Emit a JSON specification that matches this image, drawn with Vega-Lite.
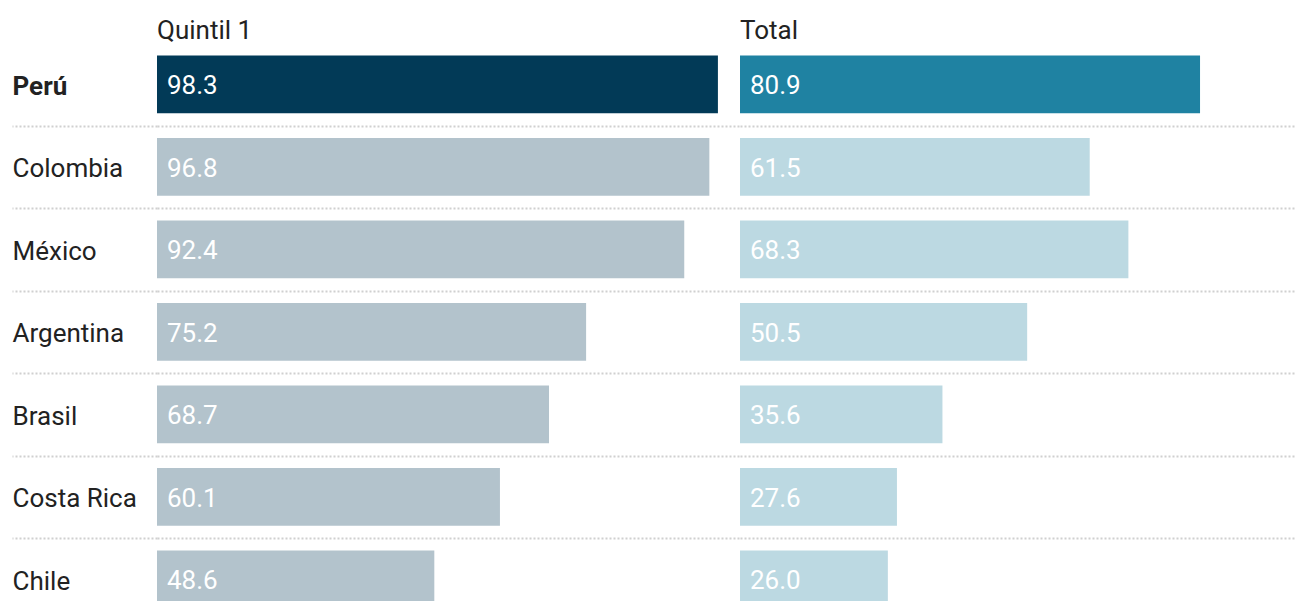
{
  "$schema": "https://vega.github.io/schema/vega-lite/v6.json",
  "padding": {"left": 11, "top": 18, "right": 0, "bottom": -20},
  "background": "white",
  "config": {"font": "Roboto", "view": {"stroke": null}, "concat": {"spacing": 0}},
  "spacing": 0,
  "data": {
    "values": [
      {"pais": "Perú", "quintil1": 98.3, "total": 80.9},
      {"pais": "Colombia", "quintil1": 96.8, "total": 61.5},
      {"pais": "México", "quintil1": 92.4, "total": 68.3},
      {"pais": "Argentina", "quintil1": 75.2, "total": 50.5},
      {"pais": "Brasil", "quintil1": 68.7, "total": 35.6},
      {"pais": "Costa Rica", "quintil1": 60.1, "total": 27.6},
      {"pais": "Chile", "quintil1": 48.6, "total": 26.0}
    ]
  },
  "hconcat": [
    {
      "width": 583,
      "height": 577.5,
      "title": {"text": "Quintil 1", "anchor": "start", "frame": "group", "fontSize": 26, "fontWeight": "normal", "color": "#222222", "offset": -1, "font": "Roboto"},
      "encoding": {
        "y": {
          "field": "pais", "type": "nominal", "sort": null,
          "scale": {"paddingInner": 0.3, "paddingOuter": 0.15},
          "axis": {
            "title": null, "domain": false,
            "bandPosition": 0.5, "tickOffset": 41.25, "labelOffset": -39.5,
            "ticks": true, "tickSize": 145, "tickColor": "#d0d0d0", "tickDash": [2, 2], "tickWidth": 2,
            "grid": true, "gridColor": "#d0d0d0", "gridDash": [2, 2], "gridWidth": 2,
            "labelAlign": "left", "labelBaseline": "middle", "labelPadding": 0,
            "labelFontSize": 26, "labelColor": "#222222", "labelFont": "Roboto",
            "labelFontWeight": {"condition": {"test": "datum.value === 'Perú'", "value": "bold"}, "value": "normal"}
          }
        }
      },
      "layer": [
        {
          "mark": {"type": "bar"},
          "encoding": {
            "x": {"field": "quintil1", "type": "quantitative", "scale": {"domain": [0, 102.17], "nice": false, "zero": true}, "axis": null},
            "color": {"condition": {"test": "datum.pais === 'Perú'", "value": "#023A57"}, "value": "#B3C3CC"}
          }
        },
        {
          "mark": {"type": "text", "align": "left", "baseline": "middle", "dx": 10, "dy": 2, "fontSize": 26, "color": "white", "font": "Roboto"},
          "encoding": {
            "x": {"datum": 0, "type": "quantitative"},
            "text": {"field": "quintil1", "type": "quantitative", "format": ".1f"}
          }
        }
      ]
    },
    {
      "width": 555,
      "height": 577.5,
      "title": {"text": "Total", "anchor": "start", "frame": "group", "fontSize": 26, "fontWeight": "normal", "color": "#222222", "offset": -1, "font": "Roboto"},
      "encoding": {
        "y": {
          "field": "pais", "type": "nominal", "sort": null,
          "scale": {"paddingInner": 0.3, "paddingOuter": 0.15},
          "axis": {
            "title": null, "domain": false, "labels": false, "ticks": false,
            "bandPosition": 0.5, "tickOffset": 41.25,
            "grid": true, "gridColor": "#d0d0d0", "gridDash": [2, 2], "gridWidth": 2
          }
        }
      },
      "layer": [
        {
          "mark": {"type": "bar"},
          "encoding": {
            "x": {"field": "total", "type": "quantitative", "scale": {"domain": [0, 97.6], "nice": false, "zero": true}, "axis": null},
            "color": {"condition": {"test": "datum.pais === 'Perú'", "value": "#1F82A2"}, "value": "#BCD9E2"}
          }
        },
        {
          "mark": {"type": "text", "align": "left", "baseline": "middle", "dx": 10, "dy": 2, "fontSize": 26, "color": "white", "font": "Roboto"},
          "encoding": {
            "x": {"datum": 0, "type": "quantitative"},
            "text": {"field": "total", "type": "quantitative", "format": ".1f"}
          }
        }
      ]
    }
  ]
}
